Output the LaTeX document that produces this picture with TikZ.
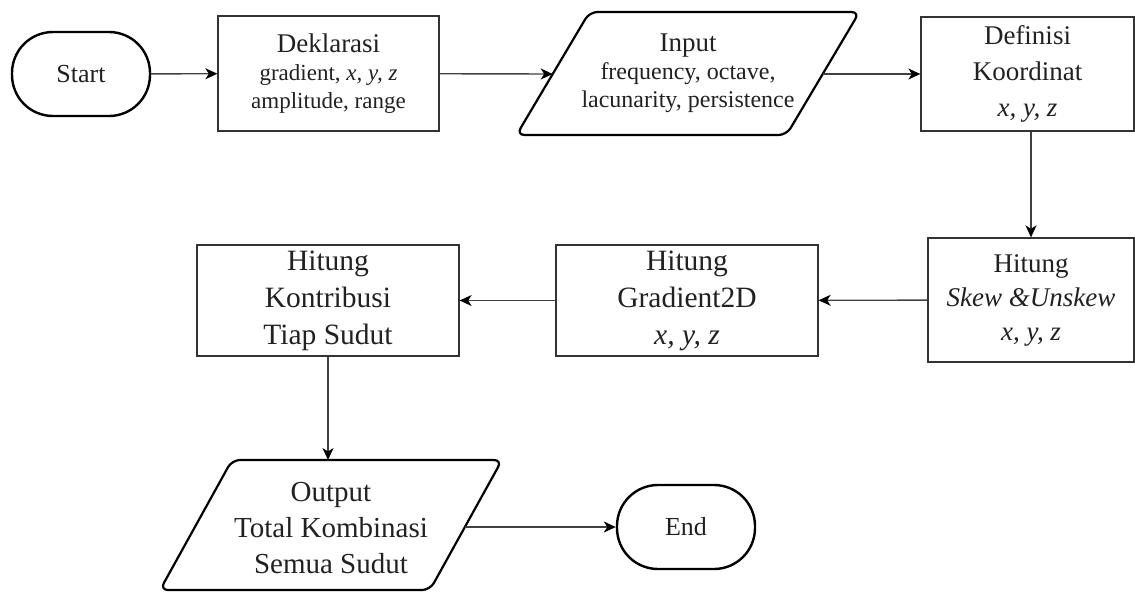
\documentclass[tikz,border=0pt]{standalone}
\usepackage{fontspec}
\setmainfont{Liberation Serif}
\usetikzlibrary{arrows.meta}
\begin{document}
\begin{tikzpicture}[x=1pt,y=-1pt,
  box/.style={draw=black!80, line width=1.3pt, rectangle, inner sep=0pt, align=center, text=black!87},
  term/.style={draw=black, line width=2.4pt, rectangle, rounded corners=41pt, minimum width=138pt, minimum height=84pt, inner sep=0pt, font=\fontsize{26}{30}\selectfont, text=black!87},
  paral/.style={draw=black, line width=2.2pt, rounded corners=8pt, line join=round},
  ptext/.style={inner sep=0pt, align=center, text=black!87},
  arr/.style={draw=black!75, line width=1.4pt, -{Stealth[length=12pt,width=11pt,inset=3.5pt,color=black]}},
]
\useasboundingbox (0,0) rectangle (1135,592);
% terminals and boxes
\node[term] (start) at (81,74) {Start};
\node[box, minimum width=221pt, minimum height=115pt, font=\fontsize{23}{28}\selectfont] (dek) at (328.5,73.5)
  {{\fontsize{27}{28}\selectfont Deklarasi}\\gradient, \textit{x, y, z}\\amplitude, range};
% input parallelogram
\draw[paral] (516.5,135) -- (589.5,12) -- (859.5,12) -- (786.5,135) -- cycle;
\node[ptext, font=\fontsize{24}{28}\selectfont] (inp) at (688,73.5)
  {{\fontsize{27}{28}\selectfont Input}\\frequency, octave,\\lacunarity, persistence};
\coordinate (inpW) at (552.7,74);
\coordinate (inpE) at (822.7,74);
\node[box, minimum width=213pt, minimum height=114pt, font=\fontsize{27}{36}\selectfont] (def) at (1027.5,74)
  {Definisi\\Koordinat\\\textit{x, y, z}};
\node[box, minimum width=206pt, minimum height=124pt, font=\fontsize{27}{34}\selectfont] (skew) at (1031,300)
  {Hitung\\\textit{Skew \&Unskew}\\\textit{x, y, z}};
\node[box, minimum width=262pt, minimum height=111pt, font=\fontsize{29.5}{37}\selectfont] (grad) at (687,300.5)
  {Hitung\\Gradient2D\\\textit{x, y, z}};
\node[box, minimum width=262pt, minimum height=111pt, font=\fontsize{29.5}{37}\selectfont] (kon) at (328,300.5)
  {Hitung\\Kontribusi\\Tiap Sudut};
% output parallelogram
\draw[paral] (160,590) -- (232,460) -- (502,460) -- (430,590) -- cycle;
\node[ptext, font=\fontsize{29}{36}\selectfont] (out) at (331,528)
  {Output\\Total Kombinasi\\Semua Sudut};
\coordinate (outN) at (328,460);
\coordinate (outE) at (465,527);
\node[term] (end) at (686,527) {End};
% connectors
\draw[arr] (start) -- (dek);
\draw[arr] (dek) -- (inpW);
\draw[arr] (inpE) -- (def);
\draw[arr] (skew.north |- def.south) -- (skew.north);
\draw[arr] (skew) -- (grad);
\draw[arr] (grad) -- (kon);
\draw[arr] (kon.south) -- (outN);
\draw[arr] (outE) -- (end);
\end{tikzpicture}
\end{document}
